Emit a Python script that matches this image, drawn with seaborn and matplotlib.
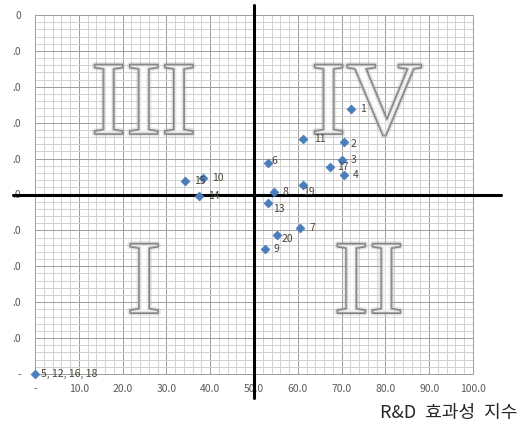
import matplotlib
matplotlib.use("Agg")
import matplotlib.pyplot as plt
import matplotlib.patheffects as pe
from matplotlib.ticker import MultipleLocator
import seaborn as sns
import pandas as pd

# ---- data ----
labels = ["1", "2", "3", "4", "17", "11", "6", "8", "19", "13", "7", "20", "9",
          "15", "10", "14", "5, 12, 16, 18"]
x_vals = [72.2, 70.5, 70.1, 70.5, 67.4, 61.3, 53.2, 54.5, 61.3, 53.2, 60.5, 55.3, 52.5,
          34.3, 38.3, 37.4, 0.0]
y_vals = [73.7, 64.7, 59.7, 55.4, 57.7, 65.5, 58.8, 50.8, 52.6, 47.7, 40.8, 38.7, 34.8,
          53.8, 54.7, 49.7, 0.0]
x_ticks = [0, 10, 20, 30, 40, 50, 60, 70, 80, 90, 100]
x_tick_labels = ["-", "10.0", "20.0", "30.0", "40.0", "50.0", "60.0", "70.0", "80.0", "90.0", "100.0"]
y_ticks = [0, 10, 20, 30, 40, 50, 60, 70, 80, 90, 100]
y_tick_labels = ["-", ".0", ".0", ".0", ".0", ".0", ".0", ".0", ".0", ".0", "0"]
quadrants = ["III", "IV", "I", "II"]
quad_x = [24.8, 75.7, 24.9, 76.2]
quad_y = [66.9, 66.9, 17.0, 17.0]
x_title = "R&D\u2002효과성\u2002지수"

# label offsets in pixels (layout only)
label_offsets = {"2": (7, -2), "6": (3, 2), "19": (0, -7), "13": (5, -6),
                 "20": (4, -4), "5, 12, 16, 18": (6, 0), "11": (11, 0),
                 "17": (7, 0)}

sns.set_style("white")
plt.rcParams["font.family"] = ["Noto Sans CJK KR", "DejaVu Sans"]

fig = plt.figure(figsize=(5.24, 4.24), dpi=100)
W, H = 524, 424
ax = fig.add_axes([35 / W, (H - 374) / H, (473 - 35) / W, (374 - 15) / H])

df = pd.DataFrame({"x": x_vals, "y": y_vals, "label": labels})

ax.set_xlim(0, 100)
ax.set_ylim(0, 100)
ax.xaxis.set_major_locator(MultipleLocator(10))
ax.yaxis.set_major_locator(MultipleLocator(10))
ax.xaxis.set_minor_locator(MultipleLocator(2))
ax.yaxis.set_minor_locator(MultipleLocator(2))
ax.grid(which="minor", color="#d2d2d2", linewidth=0.72, zorder=0)
ax.grid(which="major", color="#a0a0a0", linewidth=0.72, zorder=0)
ax.set_axisbelow(True)
for s in ax.spines.values():
    s.set_color("#a0a0a0")
    s.set_linewidth(0.72)

ax.set_xticks(x_ticks)
ax.set_xticklabels(x_tick_labels)
ax.set_yticks(y_ticks)
ax.set_yticklabels(y_tick_labels)
ax.tick_params(axis="both", which="major", length=4, width=0.72, color="#a0a0a0",
               labelsize=7.5, labelcolor="#595959")
ax.tick_params(axis="x", pad=3)
ax.tick_params(axis="y", pad=6)
ax.tick_params(which="minor", length=0)

# quadrant numerals
for q, qx, qy in zip(quadrants, quad_x, quad_y):
    ax.text(qx, qy, q, ha="center", va="baseline", fontsize=76,
            family="Liberation Serif", color=(1, 1, 1, 0.3), zorder=2,
            path_effects=[pe.Stroke(linewidth=4, foreground=(0.7, 0.7, 0.7, 0.3)),
                          pe.Stroke(linewidth=1.5, foreground="#808080"),
                          pe.Normal()])

# quadrant dividing lines
ax.plot([50, 50], [-6.7, 102.8], color="black", linewidth=2.2, clip_on=False, zorder=3)
ax.plot([-5, 106.4], [50, 50], color="black", linewidth=2.2, clip_on=False, zorder=3)

sns.scatterplot(data=df, x="x", y="y", marker="D", s=22, color="#4a7ebb",
                edgecolor="#4a7ebb", linewidth=0.3, ax=ax, zorder=5, clip_on=False)

for lab, xv, yv in zip(labels, x_vals, y_vals):
    dx, dy = label_offsets.get(lab, (9, 0))
    ax.annotate(lab, (xv, yv), xytext=(dx, dy), textcoords="offset pixels",
                ha="left", va="center", fontsize=7.5, color="#4a4436", zorder=6,
                annotation_clip=False)

ax.set_xlabel("")
ax.set_ylabel("")
fig.text(517 / W, (H - 418) / H, x_title, ha="right", va="baseline",
         fontsize=13, color="#262626")

fig.savefig("out.png", dpi=100)
